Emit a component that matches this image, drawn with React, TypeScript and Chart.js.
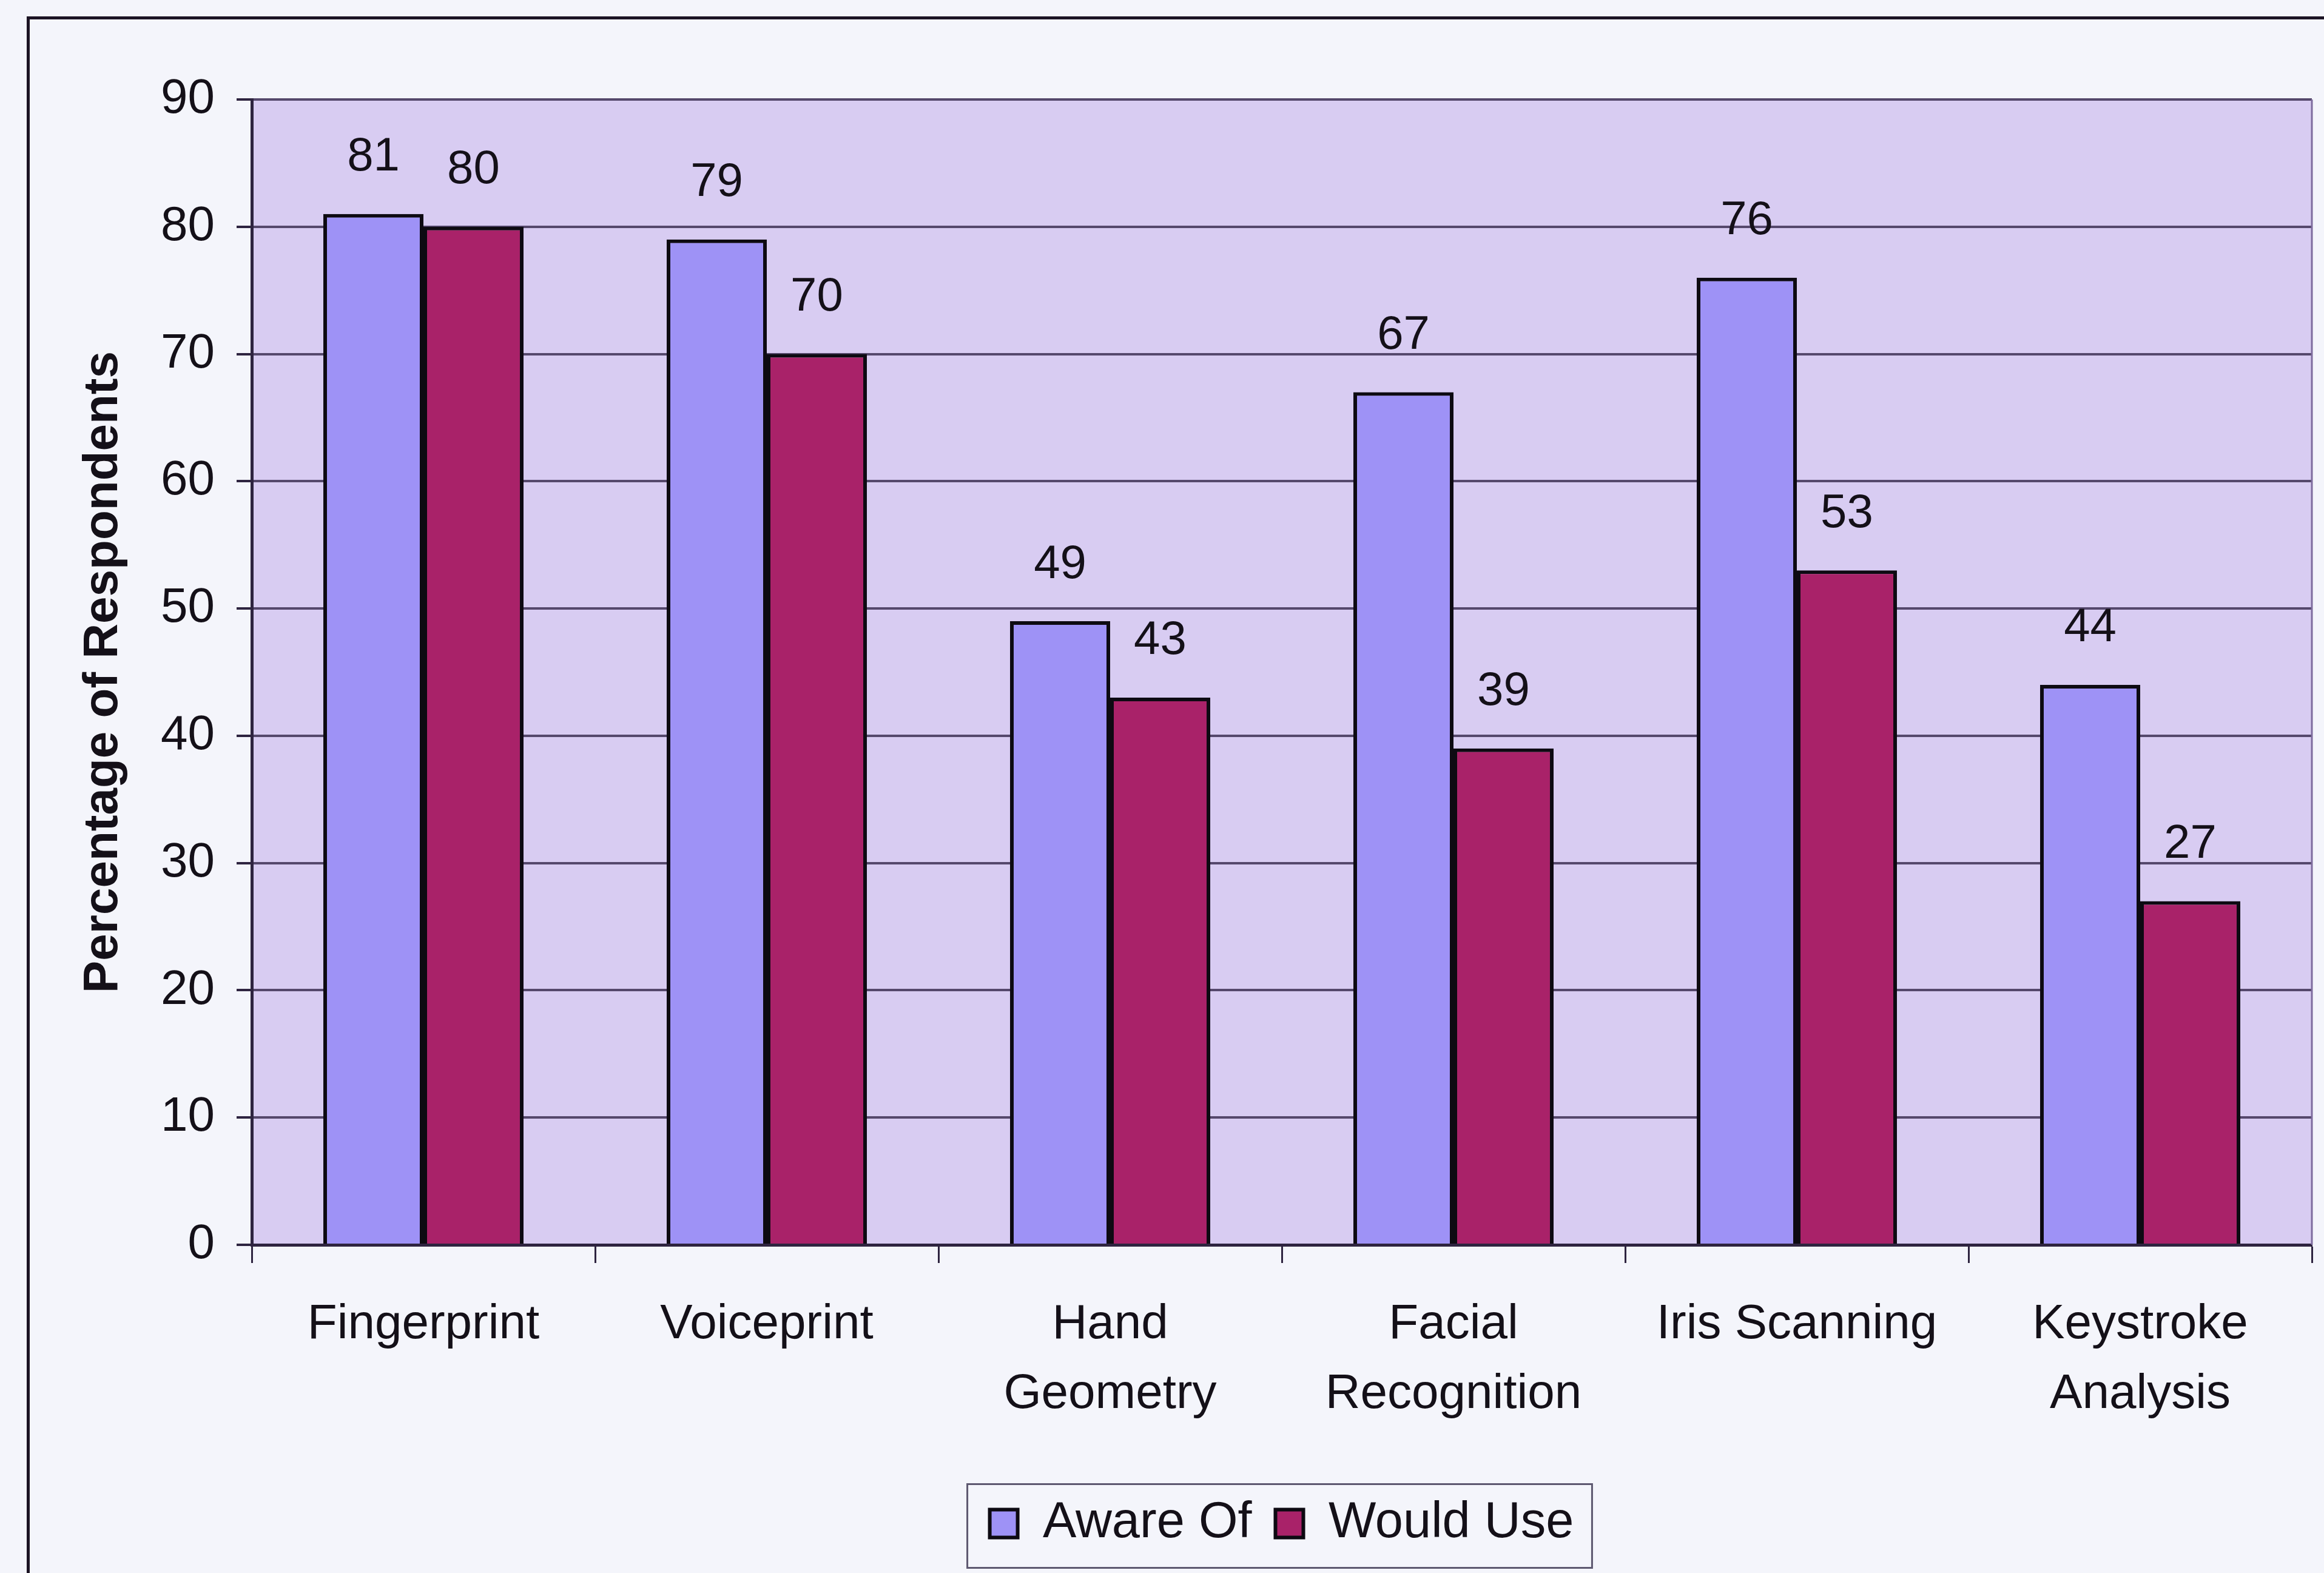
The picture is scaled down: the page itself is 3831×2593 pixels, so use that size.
import React, { useEffect, useRef } from 'react';
import { Chart, registerables } from 'chart.js';

Chart.register(...registerables);

// ---- data ----
const categories: (string | string[])[] = [
  'Fingerprint',
  'Voiceprint',
  ['Hand', 'Geometry'],
  ['Facial', 'Recognition'],
  'Iris Scanning',
  ['Keystroke', 'Analysis'],
];
const seriesNames = ['Aware Of', 'Would Use'];
const awareOf = [81, 79, 49, 67, 76, 44];
const wouldUse = [80, 70, 43, 39, 53, 27];
const yMin = 0;
const yMax = 90;
const yStep = 10;
const yTitle = 'Percentage of Respondents';

// ---- style ----
const W = 3831;
const H = 2593;
const FONT = "'Liberation Sans', Arial, Helvetica, sans-serif";
const TEXT = '#141018';
const PAGE_BG = '#f4f5fb';
const PLOT_BG = '#d8ccf2';
const AWARE_COLOR = '#9e92f6';
const USE_COLOR = '#a92269';
const GRID = '#55486c';
const AXIS = '#2e2440';

const plotBgPlugin = {
  id: 'plotBg',
  beforeDraw(chart: any) {
    const { ctx, chartArea } = chart;
    ctx.save();
    ctx.fillStyle = PLOT_BG;
    ctx.fillRect(chartArea.left, chartArea.top, chartArea.right - chartArea.left, chartArea.bottom - chartArea.top);
    ctx.restore();
  },
  beforeDatasetsDraw(chart: any) {
    const { ctx, chartArea } = chart;
    ctx.save();
    ctx.strokeStyle = '#7e6c9e';
    ctx.lineWidth = 3;
    ctx.beginPath();
    ctx.moveTo(chartArea.right, chartArea.top);
    ctx.lineTo(chartArea.right, chartArea.bottom);
    ctx.stroke();
    ctx.restore();
  },
};

const valueLabelPlugin = {
  id: 'valueLabels',
  afterDatasetsDraw(chart: any) {
    const { ctx } = chart;
    ctx.save();
    ctx.fillStyle = TEXT;
    ctx.font = `78px ${FONT}`;
    ctx.textAlign = 'center';
    ctx.textBaseline = 'middle';
    chart.data.datasets.forEach((ds: any, di: number) => {
      const meta = chart.getDatasetMeta(di);
      meta.data.forEach((el: any, i: number) => {
        ctx.fillText(String(ds.data[i]), el.x, el.y - 93);
      });
    });
    ctx.restore();
  },
};

const legendFramePlugin = {
  id: 'legendFrame',
  afterDraw(chart: any) {
    const lg = chart.legend;
    if (!lg || !lg.legendHitBoxes || !lg.legendHitBoxes.length) return;
    const hb = lg.legendHitBoxes;
    const first = hb[0];
    const last = hb[hb.length - 1];
    const cy = first.top + first.height / 2;
    const { ctx } = chart;
    ctx.save();
    ctx.strokeStyle = '#5d5870';
    ctx.lineWidth = 3;
    const left = first.left - 37;
    const right = last.left + last.width + 30;
    ctx.strokeRect(left, cy - 65, right - left, 138);
    ctx.restore();
  },
};

export default function App() {
  const ref = useRef<HTMLCanvasElement | null>(null);

  useEffect(() => {
    if (!ref.current) return;
    const chart = new Chart(ref.current, {
      type: 'bar',
      data: {
        labels: categories as any,
        datasets: [
          {
            label: seriesNames[0],
            data: awareOf,
            backgroundColor: AWARE_COLOR,
            borderColor: '#0d0a12',
            borderWidth: 6,
            categoryPercentage: 0.583,
            barPercentage: 1,
          },
          {
            label: seriesNames[1],
            data: wouldUse,
            backgroundColor: USE_COLOR,
            borderColor: '#0d0a12',
            borderWidth: 6,
            categoryPercentage: 0.583,
            barPercentage: 1,
          },
        ],
      },
      options: {
        responsive: false,
        animation: false,
        devicePixelRatio: 1,
        layout: { padding: { left: 0, top: 164, right: 20, bottom: 30 } },
        plugins: {
          tooltip: { enabled: false },
          legend: {
            position: 'bottom',
            fullSize: false,
            labels: {
              font: { family: FONT, size: 83 },
              color: TEXT,
              boxWidth: 46,
              boxHeight: 46,
              padding: 39,
            },
          },
        },
        scales: {
          x: {
            offset: true,
            grid: {
              display: true,
              offset: true,
              drawOnChartArea: false,
              drawTicks: true,
              tickLength: 30,
              tickColor: AXIS,
              tickWidth: 3,
            },
            border: { display: true, color: AXIS, width: 5 },
            ticks: {
              font: { family: FONT, size: 80, lineHeight: 1.43 },
              color: TEXT,
              padding: 45,
              maxRotation: 0,
              minRotation: 0,
              autoSkip: false,
            },
            afterFit: (s: any) => {
              s.height = 379;
            },
          },
          y: {
            min: yMin,
            max: yMax,
            grid: {
              color: GRID,
              lineWidth: 4,
              drawTicks: true,
              tickLength: 25,
              tickColor: AXIS,
              tickWidth: 4,
            },
            border: { display: true, color: AXIS, width: 5 },
            ticks: {
              stepSize: yStep,
              font: { family: FONT, size: 80 },
              color: TEXT,
              padding: 36,
            },
            title: {
              display: true,
              text: yTitle,
              color: TEXT,
              font: { family: FONT, size: 80, weight: 'bold' },
              padding: { top: 123, bottom: 0 },
            },
            afterFit: (s: any) => {
              s.width = 415;
            },
          },
        },
      } as any,
      plugins: [plotBgPlugin, valueLabelPlugin, legendFramePlugin],
    });
    return () => chart.destroy();
  }, []);

  return (
    <div
      style={{
        position: 'fixed',
        left: 0,
        top: 0,
        width: W,
        height: H,
        background: PAGE_BG,
        overflow: 'hidden',
      }}
    >
      <div
        style={{
          position: 'absolute',
          left: 44,
          top: 27,
          width: 4200,
          height: 3000,
          border: '5px solid #1c1424',
          boxSizing: 'border-box',
        }}
      />
      <canvas
        ref={ref}
        width={W}
        height={H}
        style={{ position: 'absolute', left: 0, top: 0, width: W, height: H }}
      />
    </div>
  );
}
